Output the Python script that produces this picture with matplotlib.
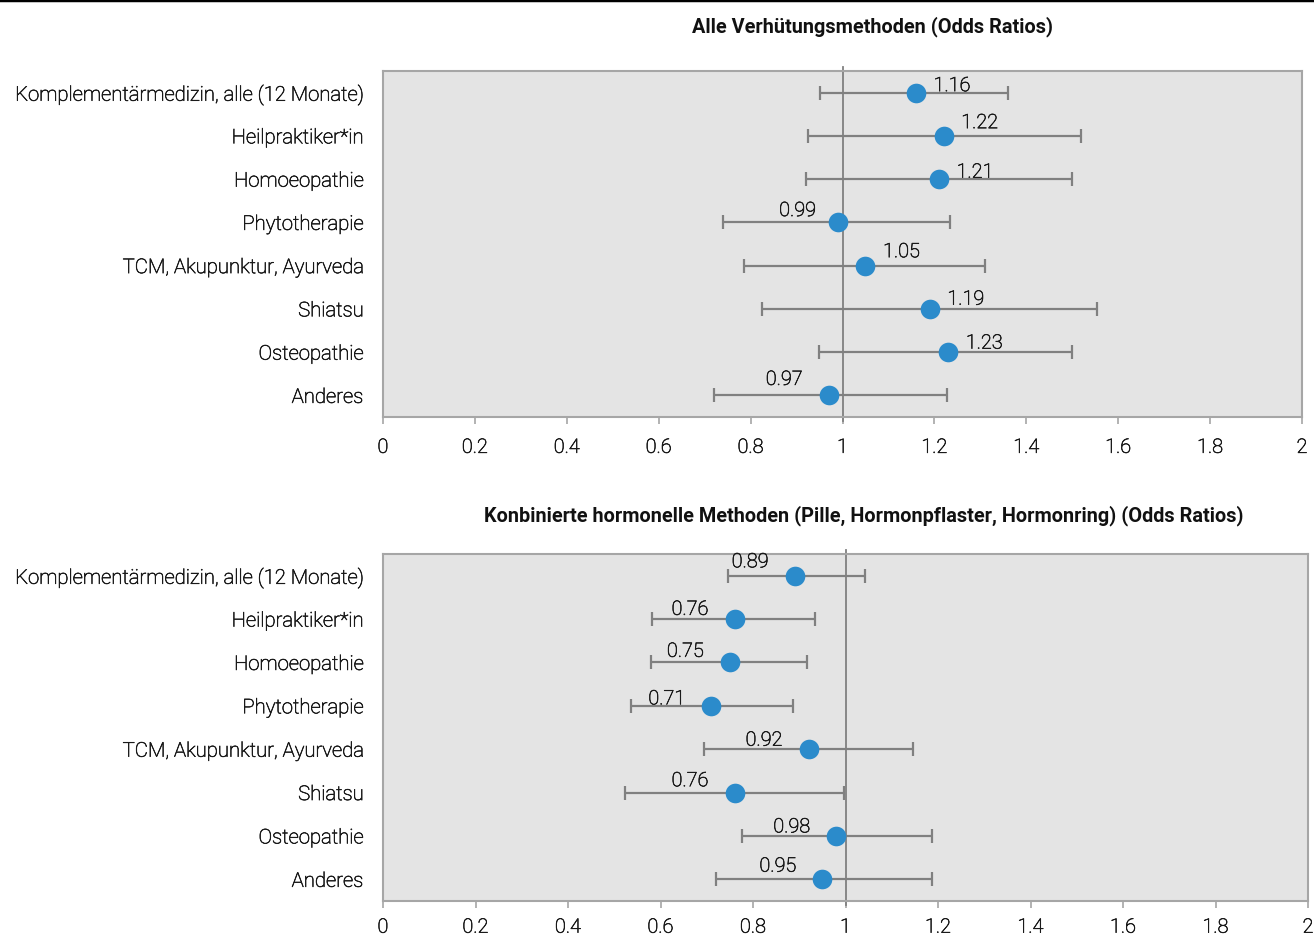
import matplotlib
matplotlib.use("Agg")
import matplotlib.pyplot as plt
from matplotlib.lines import Line2D
import matplotlib.patheffects as pe

plt.rcParams['font.family'] = ['Roboto', 'DejaVu Sans']

categories = [
    "Komplementärmedizin, alle (12 Monate)",
    "Heilpraktiker*in",
    "Homoeopathie",
    "Phytotherapie",
    "TCM, Akupunktur, Ayurveda",
    "Shiatsu",
    "Osteopathie",
    "Anderes",
]

# Alle Verhütungsmethoden
or_all = [1.16, 1.22, 1.21, 0.99, 1.05, 1.19, 1.23, 0.97]
lo_all = [0.95, 0.925, 0.92, 0.74, 0.785, 0.825, 0.948, 0.72]
hi_all = [1.36, 1.52, 1.50, 1.235, 1.31, 1.553, 1.50, 1.227]

# Kombinierte hormonelle Methoden
or_hor = [0.89, 0.76, 0.75, 0.71, 0.92, 0.76, 0.98, 0.95]
lo_hor = [0.747, 0.582, 0.58, 0.537, 0.695, 0.523, 0.777, 0.719]
hi_hor = [1.043, 0.935, 0.916, 0.886, 1.146, 0.997, 1.186, 1.186]

title_all = "Alle Verhütungsmethoden (Odds Ratios)"
title_hor = "Konbinierte hormonelle Methoden (Pille, Hormonpflaster, Hormonring) (Odds Ratios)"
xticks = [0, 0.2, 0.4, 0.6, 0.8, 1, 1.2, 1.4, 1.6, 1.8, 2]
xtick_labels = ["0", "0.2", "0.4", "0.6", "0.8", "1", "1.2", "1.4", "1.6", "1.8", "2"]

# label placement: horizontal shift and vertical lift of the label centre, in points
shift_all = [26, 26, 26, -29, 26, 26, 26, -32]
lift_all = [5, 9.5, 5, 8.5, 10, 7, 6.5, 11.5]
shift_hor = [-32] * 8
lift_hor = [10, 7, 8, 5, 6.5, 8.5, 6.5, 9.5]

DOT = "#2b8bcb"
BAR = "#808080"
TXT = "#1a1a1a"
BG = "#e4e4e4"
EDGE = "#a6a6a6"
LIGHT = "light"
# a hairline stroke gives the light face a little more body
BODY = [pe.withStroke(linewidth=0.45, foreground=TXT)]

fig = plt.figure(figsize=(13.14, 9.37), dpi=100)
W, H = 1314, 937


def panel(rect, values, lows, highs, shifts, lifts, title, title_xy, xpad):
    ax = fig.add_axes(rect)
    ax.set_facecolor(BG)
    n = len(values)
    ys = list(range(n))
    err = [[v - l for v, l in zip(values, lows)], [h - v for v, h in zip(values, highs)]]
    ax.errorbar(values, ys, xerr=err, fmt="none", ecolor=BAR, elinewidth=1.6,
                capsize=4.7, capthick=1.6, zorder=3)
    ax.plot([1, 1], [-0.6, n - 0.4], color=BAR, lw=1.3, zorder=2, clip_on=False)
    ax.scatter(values, ys, s=200, color=DOT, zorder=4, linewidths=0)
    for v, y, dx, dy in zip(values, ys, shifts, lifts):
        ax.annotate(f"{v:.2f}", (v, y), xytext=(dx, dy), textcoords="offset points",
                    ha="center", va="center", fontsize=14.3, color=TXT,
                    fontweight=LIGHT, zorder=5, path_effects=BODY)
    ax.set_xlim(0, 2)
    ax.set_ylim(n - 0.5, -0.5)
    ax.set_yticks(ys)
    ax.set_yticklabels(categories, fontsize=14.6, color=TXT, fontweight=LIGHT)
    ax.tick_params(axis="y", length=0, pad=14)
    ax.set_xticks(xticks)
    ax.set_xticklabels(xtick_labels, fontsize=14.3, color=TXT, fontweight=LIGHT)
    ax.tick_params(axis="x", length=5, width=1.2, color=EDGE, pad=xpad)
    for lab in ax.get_xticklabels() + ax.get_yticklabels():
        lab.set_path_effects(BODY)
    for sp in ax.spines.values():
        sp.set_color(EDGE)
        sp.set_linewidth(1.5)
    fig.text(title_xy[0] / W, 1 - title_xy[1] / H, title, ha="center", va="center",
             fontsize=14.3, fontweight="bold", color="#111111")
    return ax


panel([383 / W, 1 - 418 / H, (1302 - 383) / W, (418 - 72) / H],
      or_all, lo_all, hi_all, shift_all, lift_all, title_all, (872, 27), 10)
panel([383 / W, 1 - 902 / H, (1308 - 383) / W, (902 - 555) / H],
      or_hor, lo_hor, hi_hor, shift_hor, lift_hor, title_hor, (864, 516), 7)

fig.add_artist(Line2D([0, 1], [1 - 1 / H, 1 - 1 / H], color="black", lw=2.5,
                      transform=fig.transFigure))

fig.savefig("out.png", dpi=100)
